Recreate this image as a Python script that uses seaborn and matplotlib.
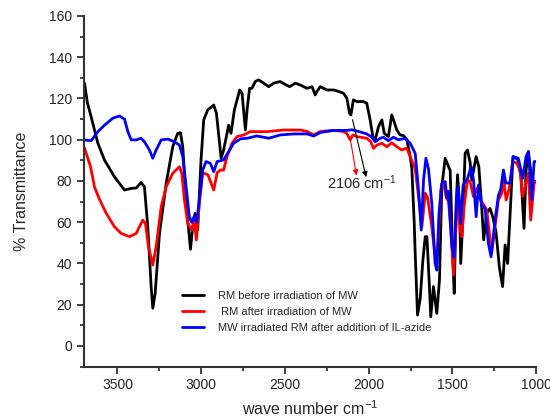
import matplotlib
matplotlib.use("Agg")
import matplotlib.pyplot as plt
import pandas as pd
import seaborn as sns
from matplotlib.ticker import MultipleLocator

# FTIR spectra (wavenumber cm-1, % transmittance)
wn_before = [3697, 3680, 3657, 3617, 3578, 3518, 3458, 3418, 3388, 3359, 3339, 3319, 3299, 3289, 3275,
             3249, 3209, 3170, 3140, 3124, 3110, 3090, 3064, 3051, 3036, 3021, 3001, 2985, 2961, 2925,
             2909, 2881, 2866, 2846, 2836, 2822, 2802, 2770, 2756, 2736, 2726, 2711, 2697, 2677, 2657,
             2627, 2597, 2567, 2528, 2492, 2472, 2438, 2408, 2368, 2338, 2319, 2309, 2289, 2249, 2209,
             2180, 2150, 2130, 2114, 2106, 2091, 2070, 2031, 2011, 1991, 1975, 1961, 1941, 1921, 1907,
             1882, 1862, 1848, 1832, 1812, 1792, 1772, 1752, 1742, 1728, 1722, 1708, 1692, 1676, 1662,
             1652, 1637, 1629, 1613, 1593, 1577, 1563, 1543, 1523, 1513, 1497, 1489, 1477, 1469, 1457,
             1450, 1438, 1424, 1410, 1394, 1384, 1358, 1342, 1325, 1313, 1295, 1275, 1259, 1239, 1219,
             1200, 1185, 1170, 1150, 1138, 1110, 1090, 1072, 1060, 1046, 1026, 1012, 1000]
t_before = [127.4, 118, 111, 98.3, 90.2, 82, 75.6, 76.4, 76.6, 79.2, 77.2, 57.8, 28.8, 18.3, 25.5,
            54.6, 78.9, 96.6, 103.1, 103.4, 96.6, 69.2, 46.9, 57.8, 64.3, 56.2, 90.2, 109.6, 114.4, 116.8,
            112.8, 91, 95, 103.1, 107, 103.1, 114.4, 124.1, 122.5, 104.7, 114.4, 124.9, 124.9, 128.2, 129,
            127.4, 125.7, 127.4, 128.2, 126.5, 125.7, 127.4, 126.5, 124.9, 125.7, 121.7, 123.4, 125.7, 124.1, 124.1,
            123.4, 122.5, 120.1, 112.8, 112, 119.3, 118.5, 118.5, 117.6, 109.6, 101.5, 99.9, 106.3, 109.6, 103.1,
            101.5, 112, 108.8, 104.7, 102.3, 102, 100, 92, 86, 60, 45, 15, 23, 41.7, 53,
            53, 28.8, 14.2, 28.8, 15.8, 32, 77.2, 91, 87, 85, 41.7, 25.5, 69.2, 83, 67.5,
            40, 61, 93.4, 95, 89, 80.5, 91.8, 87, 67.5, 51.4, 64.3, 66.7, 62.7, 55, 38,
            28.8, 49, 40, 72, 91.8, 90.5, 82, 57, 85, 94.2, 80.5, 80, 79.7]

wn_after = [3697, 3661, 3637, 3607, 3567, 3518, 3478, 3428, 3388, 3369, 3349, 3333, 3315, 3289, 3269,
            3239, 3209, 3170, 3130, 3116, 3100, 3081, 3057, 3041, 3029, 3011, 2991, 2960, 2925, 2905,
            2885, 2866, 2846, 2816, 2786, 2746, 2707, 2607, 2508, 2408, 2368, 2328, 2289, 2209, 2150,
            2130, 2110, 2094, 2070, 2011, 1987, 1971, 1951, 1921, 1892, 1862, 1832, 1802, 1772, 1752,
            1722, 1702, 1682, 1662, 1648, 1623, 1603, 1590, 1569, 1553, 1537, 1523, 1509, 1493, 1479,
            1469, 1453, 1443, 1430, 1410, 1394, 1374, 1354, 1325, 1295, 1265, 1245, 1225, 1205, 1195,
            1179, 1160, 1140, 1116, 1096, 1080, 1060, 1046, 1032, 1012, 1000]
t_after = [96, 87, 77, 71, 64.3, 57.8, 54.6, 53, 54.6, 57.8, 61, 59.5, 48.1, 39.3, 48.1,
           67.5, 77.2, 83.7, 86.9, 83.7, 70.8, 59.5, 56.2, 60, 51.4, 69.2, 84, 83, 75.6, 84,
           85.3, 85.3, 91.8, 98.3, 101.5, 102.3, 103.9, 103.9, 104.7, 104.7, 104, 102.3, 104, 104.5, 104,
           103, 99.9, 102.3, 101.5, 100.7, 99, 95.8, 97.4, 98.3, 96.6, 98.5, 96.6, 95, 96, 91.8,
           86, 72.4, 57.8, 74, 72, 57.8, 43.3, 43, 75.6, 79.7, 72, 70, 56.2, 34.4, 56,
           74, 56, 53, 67.5, 80.5, 79.7, 72.4, 76.4, 70, 66, 45, 58, 70.8, 74, 82,
           70.8, 76.4, 89.4, 88.6, 85.3, 72.4, 79, 83.7, 61, 79, 79.7]

wn_azide = [3697, 3657, 3617, 3578, 3528, 3488, 3458, 3438, 3418, 3388, 3359, 3339, 3309, 3289, 3269,
            3239, 3199, 3160, 3130, 3110, 3090, 3071, 3057, 3041, 3027, 3011, 2991, 2971, 2946, 2925,
            2905, 2866, 2836, 2806, 2766, 2726, 2667, 2597, 2528, 2448, 2368, 2328, 2289, 2209, 2130,
            2100, 2061, 2011, 1981, 1961, 1931, 1911, 1882, 1852, 1822, 1782, 1752, 1722, 1702, 1686,
            1672, 1658, 1643, 1623, 1603, 1593, 1580, 1563, 1543, 1533, 1523, 1503, 1490, 1474, 1465,
            1450, 1436, 1410, 1388, 1374, 1358, 1344, 1325, 1305, 1285, 1269, 1245, 1225, 1211, 1195,
            1181, 1155, 1136, 1106, 1080, 1060, 1046, 1026, 1012, 1000]
t_azide = [99.9, 99.5, 103.9, 107, 110.4, 111.5, 110, 103.9, 99.9, 99.9, 100.7, 99, 95, 91, 95,
           99.9, 100.3, 99, 97.4, 91.8, 77.2, 62.7, 60, 63, 60, 70.8, 85.3, 89.4, 88.6, 84.5,
           89.4, 90.2, 94.2, 98.3, 100.4, 100.7, 101.8, 100.7, 102.3, 102.8, 102.8, 101.8, 103.5, 104.5, 104.5,
           104.8, 104, 102.8, 101.2, 99, 100.7, 101.2, 99.5, 101.2, 99.9, 100.7, 98.3, 93.4, 75.6, 56.2,
           80.5, 91, 86, 69.2, 40, 36.8, 64, 78.9, 79.7, 72, 75, 48.1, 43, 72.4, 77,
           59.5, 78, 81, 87, 80.5, 62.7, 78, 68, 66.7, 49.8, 43.3, 61, 73, 76, 85.3,
           79, 79, 91.8, 91, 81.3, 91.8, 94.2, 70.8, 89.4, 89.4]

labels = ["RM before irradiation of MW",
          " RM after irradiation of MW",
          "MW irradiated RM after addition of IL-azide"]
colors = ["black", "red", "blue"]

sns.set_style("ticks")
plt.rcParams['font.family'] = ['Liberation Sans', 'DejaVu Sans']
plt.rcParams['mathtext.default'] = 'regular'

fig = plt.figure(figsize=(5.5, 4.19), dpi=100)
ax = fig.add_axes([0.1527, 0.125, 0.822, 0.837])

series = [(wn_before, t_before), (wn_after, t_after), (wn_azide, t_azide)]
for (wn, t), lab, col in zip(series, labels, colors):
    df = pd.DataFrame({"wn": wn, "T": t})
    sns.lineplot(data=df, x="wn", y="T", color=col, lw=2, label=lab, ax=ax, sort=False)

ax.set_xlim(3700, 1000)
ax.set_ylim(-10, 160)
ax.xaxis.set_major_locator(MultipleLocator(500))
ax.xaxis.set_minor_locator(MultipleLocator(250))
ax.yaxis.set_major_locator(MultipleLocator(20))
ax.yaxis.set_minor_locator(MultipleLocator(10))
ax.tick_params(which='major', direction='out', length=5, width=1.2, labelsize=10, colors='#222222')
ax.tick_params(which='minor', direction='out', length=3, width=1.2)
ax.set_yticks(range(0, 161, 20))
for s in ['top', 'right']:
    ax.spines[s].set_visible(False)
for s in ['left', 'bottom']:
    ax.spines[s].set_linewidth(1.5)
    ax.spines[s].set_color('#333333')

ax.set_xlabel("wave number cm$^{-1}$", fontsize=11.5, labelpad=5)
ax.set_ylabel("% Transmittance", fontsize=11.5, labelpad=14)

# 2106 cm-1 annotation
ax.annotate("", xy=(2070, 81.3), xytext=(2110, 100.7),
            arrowprops=dict(arrowstyle='-|>', color='red', lw=0.8, mutation_scale=8))
ax.annotate("", xy=(2011, 80.5), xytext=(2100, 111),
            arrowprops=dict(arrowstyle='-|>', color='black', lw=0.8, mutation_scale=8))
ax.text(2250, 79, "2106 cm$^{-1}$", fontsize=10.5, va='center', ha='left')

ax.legend(loc='upper left', bbox_to_anchor=(0.195, 0.245), frameon=False,
          fontsize=8, handlelength=2.0, handletextpad=1.2, labelspacing=0.55)

fig.savefig("out.png", dpi=100)
